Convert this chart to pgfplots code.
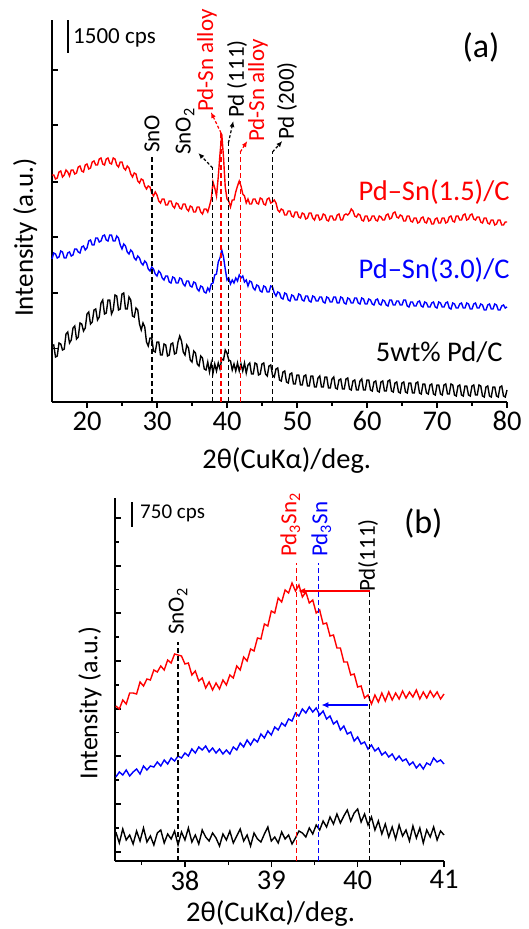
\documentclass[border=0pt]{standalone}
\usepackage{fontspec}
\setmainfont{Carlito}
\usepackage{pgfplots}
\pgfplotsset{compat=1.18}
\usepackage{pgfplotstable}
\usetikzlibrary{arrows.meta}

% panel (a): heights in axis units (0 = bottom of axis)
\pgfplotstableread{
x r b k
15.0 227 143 56
15.25 227 149 57
15.5 223 148 45
15.75 224 144 46
16.0 230 145 59
16.25 231 151 58
16.5 225 150 52
16.75 227 144 53
17.0 232 144 68
17.25 230 149 70
17.5 226 150 59
17.75 232 146 62
18.0 232 147 74
18.25 228 153 76
18.5 229 153 63
18.75 235 150 65
19.0 236 149 79
19.25 231 155 78
19.5 230 156 71
19.75 237 152 74
20.0 238 154 88
20.25 233 161 90
20.5 234 162 78
20.75 240 157 80
21.0 241 157 92
21.25 237 164 93
21.5 237 164 82
21.75 243 160 85
22.0 244 161 99
22.25 238 166 102
22.5 237 167 88
22.75 243 162 89
23.0 244 161 102
23.25 239 167 102
23.5 238 167 88
23.75 244 161 92
24.0 243 161 107
24.25 237 166 106
24.5 235 164 92
24.75 240 157 93
25.0 240 153 108
25.25 234 158 109
25.5 232 156 93
25.75 236 150 93
26.0 234 148 105
26.25 228 152 102
26.5 225 150 86
26.75 229 144 85
27.0 228 142 94
27.25 221 146 92
27.5 219 144 78
27.75 223 139 72
28.0 222 137 79
28.25 216 141 75
28.5 213 139 60
28.75 216 133 56
29.0 215 131 64
29.25 209 135 64
29.5 206 133 51
29.75 210 128 50
30.0 207 126 60
30.25 201 131 60
30.5 199 129 47
30.75 203 124 47
31.0 203 122 58
31.25 197 126 57
31.5 197 126 46
31.75 201 120 47
32.0 201 119 58
32.25 196 125 59
32.5 194 124 48
32.75 199 119 49
33.0 198 119 60
33.25 194 124 66
33.5 193 123 61
33.75 198 118 50
34.0 198 116 47
34.25 193 121 57
34.5 191 121 54
34.75 196 116 42
35.0 195 115 40
35.25 190 120 51
35.5 190 119 49
35.75 195 113 38
36.0 195 111 36
36.25 190 116 46
36.5 188 115 44
36.75 193 110 33
37.0 193 109 32
37.25 190 114 40
37.50 196 111 30
37.75 203 118 39
38.00 220 119 29
38.25 214 127 38
38.50 206 128 31
38.75 225 140 39
39.00 248 144 33
39.25 268 152 43
39.50 245 145 42
39.75 215 133 52
40.00 203 122 49
40.25 201 124 42
40.50 195 118 41
40.75 202 122 32
41.00 202 119 38
41.25 210 124 31
41.50 216 121 39
41.75 221 127 31
42.00 216 124 38
42.25 208 126 31
42.50 206 120 39
42.75 199 122 29
43.00 203 116 37
43.25 198 121 39
43.5 198 120 28
43.75 203 114 28
44.0 203 112 39
44.25 199 117 38
44.5 198 116 27
44.75 204 111 28
45.0 203 110 38
45.25 198 116 39
45.5 197 115 28
45.75 203 110 26
46.0 204 110 36
46.25 199 116 37
46.5 200 115 27
46.75 202 109 25
47.0 199 106 33
47.25 192 110 34
47.5 190 109 22
47.75 193 104 21
48.0 192 103 30
48.25 187 109 31
48.5 187 108 20
48.75 191 102 19
49.0 191 101 28
49.25 186 107 29
49.5 185 106 18
49.75 190 102 18
50.0 190 102 27
50.25 185 108 27
50.5 184 107 17
50.75 189 102 17
51.0 188 101 26
51.25 183 106 27
51.5 184 106 16
51.75 189 101 16
52.0 189 100 26
52.25 184 106 26
52.5 182 105 15
52.75 187 101 15
53.0 187 101 24
53.25 182 105 26
53.5 183 105 15
53.75 188 100 15
54.0 187 99 25
54.25 182 105 25
54.5 181 104 14
54.75 186 100 14
55.0 186 100 23
55.25 182 105 25
55.5 182 105 14
55.75 187 99 13
56.0 188 99 22
56.25 182 105 23
56.5 182 104 13
56.75 187 99 13
57.0 188 98 23
57.25 187 104 24
57.5 189 103 13
57.75 193 99 12
58.0 191 99 21
58.25 186 104 22
58.5 185 104 12
58.75 188 99 12
59.0 187 98 21
59.25 182 104 23
59.5 181 103 12
59.75 186 98 12
60.0 186 98 22
60.25 181 103 22
60.5 182 102 12
60.75 186 98 11
61.0 186 97 20
61.25 182 102 21
61.5 181 103 11
61.75 186 98 10
62.0 185 97 20
62.25 182 102 21
62.5 182 101 11
62.75 187 97 11
63.0 188 96 21
63.25 183 102 22
63.5 184 102 11
63.75 189 97 10
64.0 190 97 19
64.25 185 101 20
64.5 184 101 10
64.75 187 97 9
65.0 186 97 19
65.25 181 102 20
65.5 181 102 10
65.75 186 96 9
66.0 186 95 19
66.25 181 100 19
66.5 180 100 9
66.75 184 96 9
67.0 184 96 19
67.25 179 100 20
67.5 180 101 9
67.75 184 96 8
68.0 185 95 18
68.25 180 100 18
68.5 179 99 9
68.75 184 95 8
69.0 183 95 17
69.25 178 99 18
69.5 178 100 8
69.75 183 95 7
70.0 184 94 17
70.25 179 100 17
70.5 179 99 8
70.75 184 95 7
71.0 184 95 17
71.25 179 99 18
71.5 180 100 8
71.75 185 94 8
72.0 186 93 18
72.25 181 99 17
72.5 180 98 7
72.75 186 94 6
73.0 186 94 16
73.25 182 98 17
73.5 182 99 7
73.75 187 94 6
74.0 188 94 16
74.25 182 99 16
74.5 183 98 7
74.75 187 93 6
75.0 188 93 16
75.25 183 98 17
75.5 182 99 7
75.75 185 94 7
76.0 185 94 17
76.25 180 98 16
76.5 179 97 6
76.75 184 92 5
77.0 184 92 15
77.25 179 97 16
77.5 178 98 6
77.75 182 93 5
78.0 182 93 15
78.25 177 98 15
78.5 178 97 6
78.75 182 92 5
79.0 182 92 15
79.25 177 96 16
79.5 177 97 6
79.75 180 94 5
80.0 180 95 12
}\dataA

% panel (b)
\pgfplotstableread{
x r b k
37.20 155 84 29
37.24 152 89 18
37.28 161 86 32
37.32 157 91 21
37.36 168 85 26
37.40 168 89 17
37.44 167 92 30
37.48 179 87 20
37.52 175 95 33
37.56 182 91 19
37.60 181 95 25
37.64 191 94 16
37.68 189 99 28
37.72 195 95 31
37.76 191 101 18
37.80 201 97 27
37.84 198 103 22
37.88 207 100 30
37.92 206 105 16
37.96 205 103 29
38.00 197 108 21
38.04 198 105 33
38.08 186 112 19
38.12 190 108 26
38.16 180 114 17
38.20 183 111 31
38.24 173 115 24
38.28 179 109 20
38.32 171 113 28
38.36 178 108 23
38.40 172 112 15
38.44 181 107 27
38.48 176 111 21
38.52 186 107 30
38.56 183 114 18
38.60 195 111 25
38.64 191 118 32
38.68 204 114 20
38.72 200 121 26
38.76 212 116 15
38.80 210 122 28
38.84 223 119 22
38.88 222 127 19
38.92 237 123 27
38.96 235 130 34
39.00 250 126 20
39.04 248 134 24
39.08 263 131 18
39.12 259 138 29
39.16 271 135 22
39.20 268 142 26
39.24 278 140 17
39.28 270 148 23
39.32 276 145 30
39.36 264 152 28
39.40 269 148 24
39.44 258 154 33
39.48 261 149 27
39.52 248 153 36
39.56 251 146 31
39.60 237 150 40
39.64 238 142 34
39.68 225 145 44
39.72 226 137 37
39.76 213 140 47
39.80 213 131 38
39.84 199 135 45
39.88 199 127 51
39.92 186 129 40
39.96 187 120 48
40.00 174 124 52
40.04 175 117 39
40.08 163 119 47
40.12 166 112 36
40.16 157 116 44
40.20 166 110 31
40.24 159 113 40
40.28 168 106 27
40.32 160 109 37
40.36 169 104 24
40.40 161 107 34
40.44 168 101 22
40.48 162 105 36
40.52 170 100 25
40.56 163 102 31
40.60 169 96 20
40.64 164 99 35
40.68 171 93 23
40.72 162 97 33
40.76 169 92 18
40.80 163 98 31
40.84 170 96 24
40.88 164 103 34
40.92 169 99 21
40.96 162 101 30
41.00 167 97 26
}\dataB

\newcommand\lab{\fontsize{23}{25}\selectfont}
\newcommand\bigf{\fontsize{28.5}{31}\selectfont}

\tikzset{
  dl/.style={line width=1.3pt, dash pattern=on 5pt off 3pt},
  ar/.style={line width=1.2pt, dash pattern=on 3pt off 2pt, -{Latex[length=6pt,width=5pt]}},
}
\pgfplotsset{
  xrd/.style={
    scale only axis, clip=false,
    axis x line=bottom, axis y line=left,
    axis line style={-, line width=1.6pt},
    tick align=outside, major tick length=6pt, minor tick length=4pt,
    tick style={line width=1.2pt, black},
    y tick style={xshift=6pt},
    minor y tick style={xshift=-2pt},
    yticklabels={},
    tick label style={font=\bigf},
    /pgf/number format/assume math mode=true,
  },
}

\begin{document}
\begin{tikzpicture}
\path[use as bounding box] (0,0) rectangle (528pt,929pt);
% ---------- (a)
\begin{axis}[xrd,
  at={(52pt,527pt)}, anchor=south west,
  width=455pt, height=382pt,
  xmin=15, xmax=80, ymin=0, ymax=382,
  xtick={20,30,...,80}, minor xtick={25,35,...,75},
  ytick={53.5,109,165,220,277,332},
]
\addplot[black, line width=1.4pt, mark=none] table[x=x,y=k]{\dataA};
\addplot[blue, line width=1.4pt, mark=none] table[x=x,y=b]{\dataA};
\addplot[red, line width=1.4pt, mark=none] table[x=x,y=r]{\dataA};

\draw[black, dl] (axis cs:29.3,0) -- (axis cs:29.3,245);
\draw[black, dl] (axis cs:37.96,0) -- (axis cs:37.96,234);
\draw[red, dl] (axis cs:39.15,0) -- (axis cs:39.15,269);
\draw[black, dl] (axis cs:40.2,0) -- (axis cs:40.2,259);
\draw[red, dl] (axis cs:41.9,0) -- (axis cs:41.9,250);
\draw[black, dl] (axis cs:46.5,0) -- (axis cs:46.5,250);

\draw[black, ar] (axis cs:37.96,234) -- (axis cs:35.9,249);
\draw[red, ar] (axis cs:39.15,269) -- (axis cs:37.7,290);
\draw[black, ar] (axis cs:40.2,259) -- (axis cs:40.9,281);
\draw[red, ar] (axis cs:41.9,250) -- (axis cs:42.9,261);
\draw[black, ar] (axis cs:46.5,250) -- (axis cs:47.9,261);

\node[rotate=90, anchor=west, inner sep=0, font=\lab] at (axis cs:29.3,249) {SnO};
\node[rotate=90, anchor=west, inner sep=0, font=\lab] at (axis cs:34.0,247) {SnO\textsubscript{2}};
\node[rotate=90, anchor=west, inner sep=0, font=\lab, red] at (axis cs:37.14,290) {Pd-Sn alloy};
\node[rotate=90, anchor=west, inner sep=0, font=\lab] at (axis cs:41.43,284) {Pd (111)};
\node[rotate=90, anchor=west, inner sep=0, font=\lab, red] at (axis cs:44.43,260) {Pd-Sn alloy};
\node[rotate=90, anchor=west, inner sep=0, font=\lab] at (axis cs:48.57,262) {Pd (200)};

\draw[line width=1.6pt] (axis cs:17.29,349) -- (axis cs:17.29,382);
\node[anchor=west, inner sep=0, font=\fontsize{23}{25}\selectfont] at (axis cs:18.0,364) {1500 cps};
\node[font=\fontsize{34}{36}\selectfont] at (axis cs:76.3,355) {(a)};

\node[anchor=east, inner sep=0, font=\bigf, red] at (axis cs:80.4,210) {Pd--Sn(1.5)/C};
\node[anchor=east, inner sep=0, font=\bigf, blue] at (axis cs:80.4,132) {Pd--Sn(3.0)/C};
\node[anchor=east, inner sep=0, font=\bigf] at (axis cs:79.4,50) {5wt\% Pd/C};

\node[font=\bigf] at (rel axis cs:0.516,-0.152) {2θ(CuKα)/deg.};
\node[rotate=90, font=\fontsize{27}{30}\selectfont] at (rel axis cs:-0.059,0.43) {Intensity (a.u.)};
\end{axis}

% ---------- (b)
\begin{axis}[xrd,
  at={(115pt,68pt)}, anchor=south west,
  width=329pt, height=363pt,
  xmin=37.19, xmax=41, ymin=0, ymax=363,
  xtick={38,39,40,41}, minor xtick={37.5,38.5,39.5,40.5},
  ytick={9,57,105,152,200,248,295,343},
  minor ytick={33,81,128.5,176,224,271.5,319},
]
\addplot[black, line width=1.4pt, mark=none] table[x=x,y=k]{\dataB};
\addplot[blue, line width=1.4pt, mark=none] table[x=x,y=b]{\dataB};
\addplot[red, line width=1.4pt, mark=none] table[x=x,y=r]{\dataB};

\draw[black, dl] (axis cs:37.92,0) -- (axis cs:37.92,219);
\draw[red, dl] (axis cs:39.29,0) -- (axis cs:39.29,298);
\draw[blue, dl] (axis cs:39.545,0) -- (axis cs:39.545,298);
\draw[black, dl] (axis cs:40.14,0) -- (axis cs:40.14,269);

\draw[red, line width=1.3pt, -{Latex[length=7pt,width=6pt]}] (axis cs:40.14,270) -- (axis cs:39.31,270);
\draw[blue, line width=1.3pt, -{Latex[length=7pt,width=6pt]}] (axis cs:40.12,156) -- (axis cs:39.58,156);

\node[rotate=90, anchor=west, inner sep=0, font=\lab] at (axis cs:37.92,226) {SnO\textsubscript{2}};
\node[rotate=90, anchor=west, inner sep=0, font=\lab, red] at (axis cs:39.22,304) {Pd\textsubscript{3}Sn\textsubscript{2}};
\node[rotate=90, anchor=west, inner sep=0, font=\lab, blue] at (axis cs:39.58,304) {Pd\textsubscript{3}Sn};
\node[rotate=90, anchor=west, inner sep=0, font=\lab] at (axis cs:40.12,269) {Pd(111)};

\draw[line width=1.6pt] (axis cs:37.386,334) -- (axis cs:37.386,359);
\node[anchor=west, inner sep=0, font=\fontsize{21}{23}\selectfont] at (axis cs:37.48,348) {750 cps};
\node[font=\fontsize{34}{36}\selectfont] at (axis cs:40.76,338) {(b)};

\node[font=\bigf] at (rel axis cs:0.473,-0.146) {2θ(CuKα)/deg.};
\node[rotate=90, font=\fontsize{26}{28}\selectfont] at (rel axis cs:-0.076,0.435) {Intensity (a.u.)};
\end{axis}
\end{tikzpicture}
\end{document}
